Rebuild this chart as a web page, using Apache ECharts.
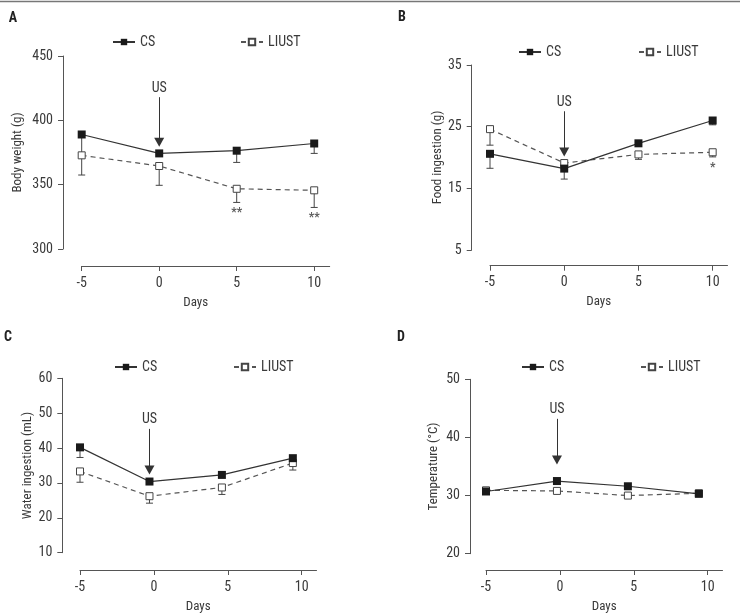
<!DOCTYPE html>
<html>
<head>
<meta charset="utf-8">
<script src="https://cdn.jsdelivr.net/npm/echarts@6/dist/echarts.min.js"></script>
<style>
  html, body { margin: 0; padding: 0; background: #fff; }
  #chart { width: 740px; height: 614px; }
</style>
</head>
<body>
<div id="chart"></div>
<script>
// x values (days) - panels C and D are plotted slightly left of the ticks
const days = [-5, 0, 5, 10]
const daysC = [-5, -0.3, 4.6, 9.4]
const daysD = [-5, -0.2, 4.6, 9.4]
const dayTicks = [-5, 0, 5, 10]

// A: body weight (g)
const weightCS = [389, 374.3, 376.4, 382]
const weightLIUST = [372.8, 364.5, 346.8, 345.6]
const weightCSLow = [357.5, null, 367.3, 374.3]
const weightLIUSTLow = [null, 349.5, 336.2, 332.3]
const weightStars = [null, null, '**', '**']

// B: food ingestion (g)
const foodCS = [20.6, 18.2, 22.3, 26.0]
const foodLIUST = [24.6, 19.1, 20.5, 20.85]
const foodCSLow = [18.25, 16.5, null, 25.3]
const foodLIUSTLow = [22.0, null, 19.7, 20.1]
const foodStars = [null, null, null, '*']

// C: water ingestion (mL)
const waterCS = [40.2, 30.4, 32.3, 37.1]
const waterLIUST = [33.3, 26.2, 28.7, 35.7]
const waterCSLow = [37.3, null, null, null]
const waterLIUSTLow = [30.2, 24.2, 26.7, 33.7]

// D: temperature (°C)
const tempCS = [30.7, 32.5, 31.6, 30.3]
const tempLIUST = [30.9, 30.8, 30.0, 30.4]

// US arrow: [day, start value, end value]
const usA = [0, 418, 383]
const usB = [0, 27.5, 20.9]
const usC = [-0.3, 45.5, 33.7]
const usD = [-0.2, 43.2, 36.1]

const FONT = '"Roboto Condensed", "Liberation Sans", sans-serif'
const TEXT = '#3a3a3a'
const AXIS = '#555'

const panels = [
  { letter: 'A', lx: 13, ly: 18, grid: { left: 81.7, top: 56, width: 248, height: 193 }, yOff: 18.7, xOff: 17,
    yMin: 300, yMax: 450, yStep: 50, yName: 'Body weight (g)', yGap: 39, dayPad: 20,
    x: days, cs: weightCS, li: weightLIUST, csLow: weightCSLow, liLow: weightLIUSTLow, stars: weightStars,
    us: usA, legendTop: 30, csLeft: 107, liLeft: 235 },
  { letter: 'B', lx: 402, ly: 17, grid: { left: 490, top: 65, width: 237.5, height: 185 }, yOff: 18.3, xOff: 15.7,
    yMin: 5, yMax: 35, yStep: 10, yName: 'Food ingestion (g)', yGap: 26, dayPad: 20,
    x: days, cs: foodCS, li: foodLIUST, csLow: foodCSLow, liLow: foodLIUSTLow, stars: foodStars,
    us: usB, legendTop: 40, csLeft: 513, liLeft: 633 },
  { letter: 'C', lx: 8, ly: 337, grid: { left: 80, top: 378.3, width: 236.5, height: 178.4 }, yOff: 17.7, xOff: 17.3,
    yMin: 10, yMax: 60, yStep: 10, yName: 'Water ingestion (mL)', yGap: 21, dayPad: 0,
    x: daysC, cs: waterCS, li: waterLIUST, csLow: waterCSLow, liLow: waterLIUSTLow, stars: null,
    us: usC, legendTop: 355, csLeft: 109, liLeft: 228 },
  { letter: 'D', lx: 401, ly: 337, grid: { left: 486, top: 379.3, width: 236.5, height: 178.4 }, yOff: 16, xOff: 16.3,
    yMin: 20, yMax: 50, yStep: 10, yName: 'Temperature (\u00B0C)', yGap: 30, dayPad: 0,
    x: daysD, cs: tempCS, li: tempLIUST, csLow: null, liLow: null, stars: null,
    us: usD, legendTop: 355, csLeft: 516, liLeft: 635 }
]

const pairs = (xs, ys) => xs.map((x, i) => [x, ys[i]])

const errorBars = (xs, ys, lows) => {
  const out = []
  if (!lows) return out
  lows.forEach((low, i) => { if (low !== null) out.push([xs[i], ys[i], low]) })
  return out
}

const renderErrorBar = (params, api) => {
  const x = api.value(0)
  const top = api.coord([x, api.value(1)])
  const bot = api.coord([x, api.value(2)])
  const hw = 3.5
  const style = { stroke: '#444', lineWidth: 1 }
  return {
    type: 'group',
    children: [
      { type: 'line', shape: { x1: top[0], y1: top[1], x2: bot[0], y2: bot[1] }, style },
      { type: 'line', shape: { x1: bot[0] - hw, y1: bot[1], x2: bot[0] + hw, y2: bot[1] }, style }
    ]
  }
}

const grids = [], xAxes = [], yAxes = [], series = [], legends = [], graphics = []

graphics.push({ type: 'line', shape: { x1: 0, y1: 1.5, x2: 740, y2: 1.5 }, style: { stroke: '#777', lineWidth: 1.5 } })

panels.forEach((p, i) => {
  grids.push(p.grid)
  graphics.push({ type: 'text', x: p.lx, y: p.ly, style: { text: p.letter, font: 'bold 14px ' + FONT, fill: '#222', align: 'center', verticalAlign: 'middle' } })

  xAxes.push({
    type: 'value', gridIndex: i, min: -5, max: 11, interval: 5, offset: p.xOff,
    name: 'Days', nameLocation: 'middle', nameGap: 30,
    nameTextStyle: { color: TEXT, fontFamily: FONT, fontSize: 13, padding: [0, p.dayPad, 0, 0] },
    axisLine: { onZero: false, lineStyle: { color: AXIS, width: 1 } },
    axisTick: { show: true, length: 5, customValues: dayTicks, lineStyle: { color: AXIS } },
    axisLabel: { customValues: dayTicks, color: TEXT, fontFamily: FONT, fontSize: 14, margin: 10 },
    splitLine: { show: false }
  })
  yAxes.push({
    type: 'value', gridIndex: i, min: p.yMin, max: p.yMax, interval: p.yStep, offset: p.yOff,
    name: p.yName, nameLocation: 'middle', nameGap: p.yGap,
    nameTextStyle: { color: TEXT, fontFamily: FONT, fontSize: 13 },
    axisLine: { show: true, onZero: false, lineStyle: { color: AXIS, width: 1 } },
    axisTick: { show: true, length: 5, lineStyle: { color: AXIS } },
    axisLabel: { color: TEXT, fontFamily: FONT, fontSize: 14, margin: 10 },
    splitLine: { show: false }
  })

  series.push({
    type: 'custom', xAxisIndex: i, yAxisIndex: i, z: 1, silent: true,
    renderItem: renderErrorBar, data: errorBars(p.x, p.cs, p.csLow)
  })
  series.push({
    type: 'custom', xAxisIndex: i, yAxisIndex: i, z: 1, silent: true,
    renderItem: renderErrorBar, data: errorBars(p.x, p.li, p.liLow)
  })
  series.push({
    name: 'LIUST', type: 'line', xAxisIndex: i, yAxisIndex: i, z: 2,
    symbol: 'rect', symbolSize: 7, showAllSymbol: true,
    lineStyle: { color: '#555', width: 1.2, type: [5, 4] },
    itemStyle: { color: '#fff', borderColor: '#444', borderWidth: 1 },
    data: pairs(p.x, p.li)
  })
  series.push({
    name: 'CS', type: 'line', xAxisIndex: i, yAxisIndex: i, z: 3,
    symbol: 'rect', symbolSize: 8,
    lineStyle: { color: '#333', width: 1.2 },
    itemStyle: { color: '#1a1a1a' },
    data: pairs(p.x, p.cs),
    markLine: {
      silent: true, symbol: ['none', 'triangle'], symbolSize: [10, 9],
      lineStyle: { color: '#333', width: 1, type: 'solid' },
      label: { show: true, position: 'start', formatter: 'US', distance: 2, color: TEXT, fontFamily: FONT, fontSize: 14 },
      data: [[{ coord: [p.us[0], p.us[1]] }, { coord: [p.us[0], p.us[2]] }]]
    }
  })
  if (p.stars) {
    const starData = []
    p.stars.forEach((s, k) => {
      if (s) starData.push({ value: [p.x[k], p.liLow[k]], label: { formatter: s } })
    })
    series.push({
      type: 'scatter', xAxisIndex: i, yAxisIndex: i, symbolSize: 0, silent: true,
      label: { show: true, position: 'bottom', distance: 5, color: '#333', fontFamily: FONT, fontSize: 12, fontWeight: 'bold' },
      data: starData
    })
  }

  const legendBase = {
    top: p.legendTop, itemWidth: 22, itemHeight: 8, itemGap: 0, selectedMode: false,
    textStyle: { color: TEXT, fontFamily: FONT, fontSize: 14 }
  }
  legends.push(Object.assign({}, legendBase, { left: p.csLeft, data: ['CS'] }))
  legends.push(Object.assign({}, legendBase, { left: p.liLeft, data: ['LIUST'] }))
})

const chart = echarts.init(document.getElementById('chart'))
chart.setOption({
  animation: false,
  backgroundColor: '#fff',
  grid: grids,
  xAxis: xAxes,
  yAxis: yAxes,
  legend: legends,
  graphic: graphics,
  series
})

window.addEventListener('resize', () => chart.resize())
</script>
</body>
</html>
